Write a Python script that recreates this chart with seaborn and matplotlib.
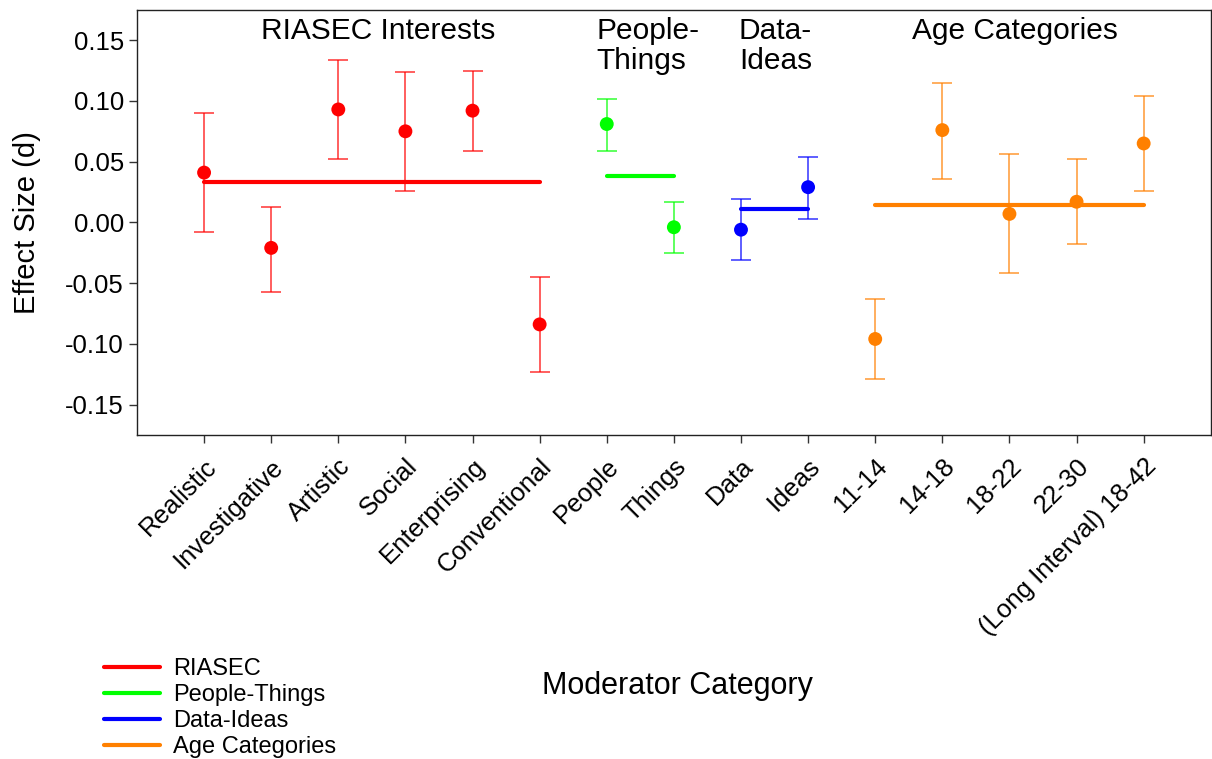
import matplotlib
matplotlib.use("Agg")
import matplotlib.pyplot as plt
import pandas as pd
import seaborn as sns

# Data
categories = ["Realistic", "Investigative", "Artistic", "Social", "Enterprising",
              "Conventional", "People", "Things", "Data", "Ideas",
              "11-14", "14-18", "18-22", "22-30", "(Long Interval) 18-42"]
groups = ["RIASEC"] * 6 + ["People-Things"] * 2 + ["Data-Ideas"] * 2 + ["Age Categories"] * 5
effect = [0.041, -0.021, 0.093, 0.075, 0.092, -0.084,
          0.081, -0.004, -0.006, 0.029,
          -0.096, 0.076, 0.007, 0.017, 0.065]
ci_upper = [0.090, 0.013, 0.134, 0.124, 0.125, -0.045,
            0.102, 0.017, 0.019, 0.054,
            -0.063, 0.115, 0.056, 0.052, 0.104]
ci_lower = [-0.008, -0.057, 0.052, 0.026, 0.059, -0.123,
            0.059, -0.025, -0.031, 0.003,
            -0.129, 0.036, -0.042, -0.018, 0.026]
group_names = ["RIASEC", "People-Things", "Data-Ideas", "Age Categories"]
group_means = [0.033, 0.038, 0.011, 0.014]
group_colors = ["#FF0000", "#00FF00", "#0000FF", "#FF8000"]

df = pd.DataFrame({"category": categories, "group": groups, "effect": effect,
                   "upper": ci_upper, "lower": ci_lower})
df["pos"] = range(len(df))

sns.set_style("ticks")
plt.rcParams["font.family"] = ["Liberation Sans", "DejaVu Sans"]
plt.rcParams["text.color"] = "black"
plt.rcParams["axes.labelcolor"] = "black"
plt.rcParams["xtick.labelcolor"] = "black"
plt.rcParams["ytick.labelcolor"] = "black"

fig = plt.figure(figsize=(12.12, 7.59), dpi=100)
ax = fig.add_axes([0.113, 0.427, 0.886, 0.56])

palette = dict(zip(group_names, group_colors))

# error bars
for name in group_names:
    sub = df[df["group"] == name]
    ax.errorbar(sub["pos"], sub["effect"],
                yerr=[sub["effect"] - sub["lower"], sub["upper"] - sub["effect"]],
                fmt="none", ecolor=palette[name], elinewidth=1.1, capsize=7,
                capthick=1.1, alpha=0.8, zorder=2)

# group mean lines
for name, m in zip(group_names, group_means):
    sub = df[df["group"] == name]
    ax.plot([sub["pos"].min(), sub["pos"].max()], [m, m], color=palette[name],
            lw=3, solid_capstyle="round", zorder=3, label=name)

# points
sns.scatterplot(data=df, x="pos", y="effect", hue="group", palette=palette,
                s=100, edgecolor="none", legend=False, ax=ax, zorder=4)

ax.set_xlim(-1, 15)
ax.set_ylim(-0.175, 0.175)
yt = [-0.15, -0.10, -0.05, 0.00, 0.05, 0.10, 0.15]
ax.set_yticks(yt)
ax.set_yticklabels(["%.2f" % v for v in yt])
ax.set_xticks(df["pos"])
ax.set_xticklabels(categories, rotation=45, ha="right", rotation_mode="anchor")
ax.tick_params(axis="both", labelsize=18.5, length=6, width=1, color="#333333")
ax.tick_params(axis="x", pad=8)
for s in ax.spines.values():
    s.set_linewidth(1)
    s.set_color("#222222")

ax.set_ylabel("Effect Size (d)", fontsize=21, labelpad=17)
ax.set_xlabel("")
fig.text(0.5586, 0.096, "Moderator Category", fontsize=22, ha="center", va="center")

# group titles
ax.text(2.6, 0.158, "RIASEC Interests", fontsize=21.5, ha="center", va="center")
ax.text(5.84, 0.169, "People-\nThings", fontsize=21.5, ha="left", va="top", linespacing=1.1)
ax.text(7.97, 0.169, "Data-\nIdeas", fontsize=21.5, ha="left", va="top", linespacing=1.1)
ax.text(12.08, 0.158, "Age Categories", fontsize=21.5, ha="center", va="center")

handles, labels = ax.get_legend_handles_labels()
fig.legend(handles, labels, loc="lower left", bbox_to_anchor=(0.085, 0.0),
           frameon=False, fontsize=17, handlelength=2.35, labelspacing=0.17,
           handletextpad=0.55, borderaxespad=0, borderpad=0.05)

fig.savefig("out.png", dpi=100)
